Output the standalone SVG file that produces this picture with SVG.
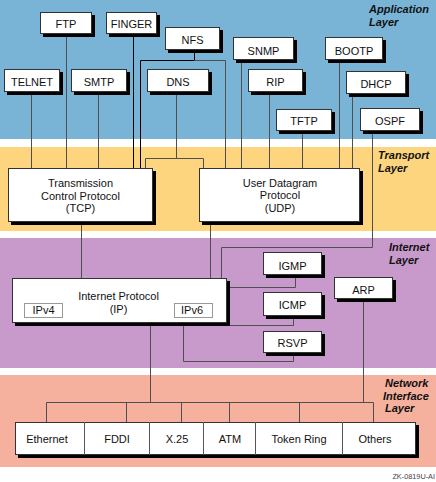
<svg xmlns="http://www.w3.org/2000/svg" width="436" height="482" viewBox="0 0 436 482">
<style>
text{font-family:"Liberation Sans",Arial,sans-serif;font-size:11px;fill:#111;text-anchor:middle}
.lay{font-weight:bold;font-style:italic;text-anchor:start}
.sh{fill:#000}
.bx{fill:#fff;stroke:#333;stroke-width:1}
.sub{fill:#fff;stroke:#999;stroke-width:1}
.ln{stroke:#4f4f4f;stroke-width:1;fill:none}
.lk{stroke:#000;stroke-width:1;fill:none}
.dv{stroke:#555;stroke-width:1}
.foot{font-size:7.3px;fill:#444;text-anchor:end}
</style>
<g id="bands">
<rect x="0" y="0" width="436" height="139" fill="#79B4D6"/>
<rect x="0" y="147" width="436" height="84" fill="#FDD57E"/>
<rect x="0" y="238" width="436" height="130" fill="#C79ACB"/>
<rect x="0" y="375" width="436" height="92" fill="#F6B09E"/>
</g>
<g id="layer-labels">
<text class="lay" x="369" y="13">Application</text>
<text class="lay" x="369" y="25.5">Layer</text>
<text class="lay" x="378" y="159">Transport</text>
<text class="lay" x="378" y="171.5">Layer</text>
<text class="lay" x="389" y="251">Internet</text>
<text class="lay" x="389" y="263.5">Layer</text>
<text class="lay" x="385" y="387">Network</text>
<text class="lay" x="383" y="399.5">Interface</text>
<text class="lay" x="385" y="412">Layer</text>
</g>
<g id="connectors">
<path class="ln" d="M31.5 92V168M66.5 34V168M98.5 92V168"/>
<path class="lk" d="M133.5 34V168M194.5 50V60.5H140.5V168"/>
<path class="ln" d="M194.5 60.5H225.5V168"/>
<path class="ln" d="M176.5 92V158.5M145.5 168V158.5H203.5V168"/>
<path class="ln" d="M241.5 60V168M269.5 92V168M302.5 131V168M339.5 60V168M352.5 94V168"/>
<path class="ln" d="M372.5 131V247.5H221.5V278"/>
<path class="ln" d="M81.5 222V278M210.5 222V278"/>
<path class="ln" d="M295.5 275V287.5H227"/>
<path class="ln" d="M293.5 316V325.5H227"/>
<path class="ln" d="M293.5 353V361.5H183.5V323"/>
<path class="ln" d="M150.5 323V402.5M363.5 299V402.5"/>
<path class="ln" d="M46.5 422V402.5H373.5V422M126.5 402.5V422M181.5 402.5V422M229.5 402.5V422M299.5 402.5V422"/>
</g>
<g id="ftp"><rect class="sh" x="43" y="15" width="52" height="22"/><rect class="bx" x="40.5" y="12.5" width="51" height="21"/><text x="66" y="28">FTP</text></g>
<g id="finger"><rect class="sh" x="109" y="15" width="51" height="22"/><rect class="bx" x="106.5" y="12.5" width="50" height="21"/><text x="131.5" y="28">FINGER</text></g>
<g id="nfs"><rect class="sh" x="168" y="30" width="55" height="23"/><rect class="bx" x="165.5" y="27.5" width="54" height="22"/><text x="192.5" y="43.5">NFS</text></g>
<g id="telnet"><rect class="sh" x="7" y="72" width="56" height="23"/><rect class="bx" x="4.5" y="69.5" width="55" height="22"/><text x="32" y="86">TELNET</text></g>
<g id="smtp"><rect class="sh" x="74" y="72" width="56" height="23"/><rect class="bx" x="71.5" y="69.5" width="55" height="22"/><text x="99" y="86">SMTP</text></g>
<g id="dns"><rect class="sh" x="150" y="72" width="62" height="23"/><rect class="bx" x="147.5" y="69.5" width="61" height="22"/><text x="178" y="86">DNS</text></g>
<g id="snmp"><rect class="sh" x="236" y="40" width="61" height="23"/><rect class="bx" x="233.5" y="37.5" width="60" height="22"/><text x="263.5" y="54.5">SNMP</text></g>
<g id="bootp"><rect class="sh" x="328" y="40" width="58" height="23"/><rect class="bx" x="325.5" y="37.5" width="57" height="22"/><text x="354" y="54.5">BOOTP</text></g>
<g id="rip"><rect class="sh" x="251" y="72" width="55" height="23"/><rect class="bx" x="248.5" y="69.5" width="54" height="22"/><text x="275.5" y="86">RIP</text></g>
<g id="dhcp"><rect class="sh" x="349" y="74" width="60" height="23"/><rect class="bx" x="346.5" y="71.5" width="59" height="22"/><text x="376" y="87.5">DHCP</text></g>
<g id="tftp"><rect class="sh" x="279" y="112" width="56" height="22"/><rect class="bx" x="276.5" y="109.5" width="55" height="21"/><text x="304" y="124.5">TFTP</text></g>
<g id="ospf"><rect class="sh" x="363" y="111" width="60" height="23"/><rect class="bx" x="360.5" y="108.5" width="59" height="22"/><text x="390" y="124.5">OSPF</text></g>
<g id="tcp"><rect class="sh" x="11" y="171" width="145" height="54"/><rect class="bx" x="8.5" y="168.5" width="144" height="53"/><text x="80.5" y="187">Transmission</text><text x="80.5" y="199.5">Control Protocol</text><text x="80.5" y="212">(TCP)</text></g>
<g id="udp"><rect class="sh" x="202" y="171" width="161" height="54"/><rect class="bx" x="199.5" y="168.5" width="160" height="53"/><text x="280" y="186.5">User Datagram</text><text x="280" y="199">Protocol</text><text x="280" y="211.5">(UDP)</text></g>
<g id="ip"><rect class="sh" x="15" y="281" width="215" height="45"/><rect class="bx" x="12.5" y="278.5" width="214" height="44"/><text x="118.5" y="300">Internet Protocol</text><text x="118.5" y="312.5">(IP)</text>
<rect class="sub" x="24.5" y="303.5" width="38" height="14"/><text x="43.5" y="314">IPv4</text>
<rect class="sub" x="174.5" y="303.5" width="38" height="14"/><text x="192" y="314">IPv6</text></g>
<g id="igmp"><rect class="sh" x="266" y="255" width="59" height="23"/><rect class="bx" x="263.5" y="252.5" width="58" height="22"/><text x="292.5" y="269.5">IGMP</text></g>
<g id="icmp"><rect class="sh" x="266" y="295" width="59" height="24"/><rect class="bx" x="263.5" y="292.5" width="58" height="23"/><text x="292.5" y="309">ICMP</text></g>
<g id="rsvp"><rect class="sh" x="266" y="334" width="59" height="22"/><rect class="bx" x="263.5" y="331.5" width="58" height="21"/><text x="292.5" y="347">RSVP</text></g>
<g id="arp"><rect class="sh" x="337" y="280" width="59" height="22"/><rect class="bx" x="334.5" y="277.5" width="58" height="21"/><text x="363.5" y="294">ARP</text></g>
<g id="netif"><rect class="sh" x="18" y="425" width="401" height="33"/><rect class="bx" x="15.5" y="422.5" width="400" height="32"/>
<path class="dv" d="M84.5 422V455M149.5 422V455M203.5 422V455M255.5 422V455M342.5 422V455"/>
<text x="47" y="442.5">Ethernet</text><text x="117" y="442.5">FDDI</text><text x="177" y="442.5">X.25</text><text x="230" y="442.5">ATM</text><text x="299" y="442.5">Token Ring</text><text x="375" y="442.5">Others</text></g>
<text class="foot" x="435" y="479">ZK-0819U-AI</text>
</svg>
